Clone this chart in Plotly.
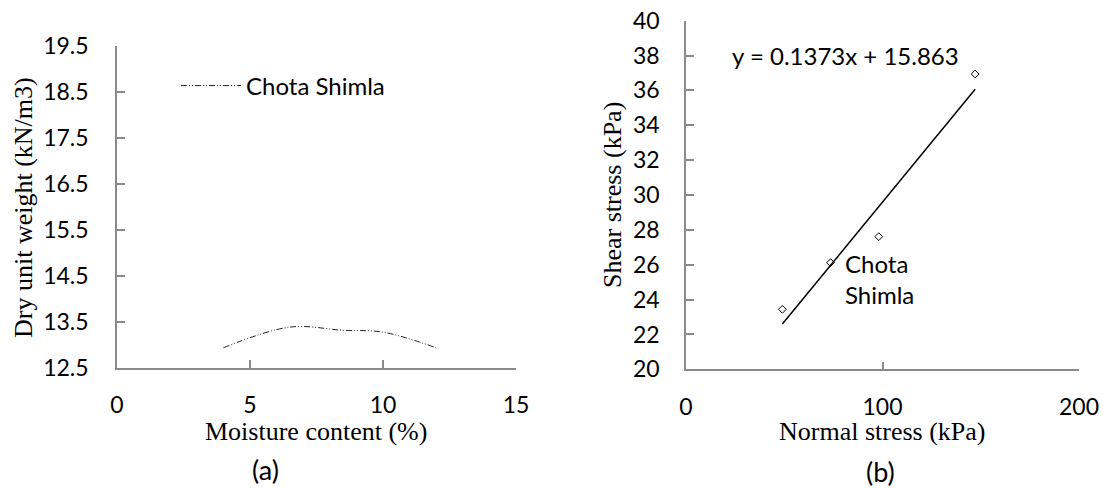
import numpy as np
import plotly.graph_objects as go

W, H = 1103, 488

# (a) compaction curve
moisture = [4.0, 6.5, 8.5, 10.0, 12.0]
dry_unit_weight = [12.94, 13.39, 13.32, 13.28, 12.94]

# (b) direct shear results
normal_stress = [49.05, 73.575, 98.1, 147.15]
shear_stress = [23.44, 26.12, 27.61, 36.94]
slope, intercept = 0.1373, 15.863

site = "Chota Shimla"

AXIS_GREY = "#8a8a8a"
TICK_FONT = dict(family="Lato", size=23, color="#000000")
TEXT_FONT = dict(family="Lato", size=24, color="#000000")
CAPTION_FONT = dict(family="Lato", size=27, color="#000000")
TITLE_FONT = dict(family="Liberation Serif", size=26, color="#000000")


def px(x, y):
    """Convert figure pixel position to paper fractions."""
    return x / W, 1 - y / H


fig = go.Figure()

fig.add_trace(go.Scatter(
    x=moisture, y=dry_unit_weight, mode="lines", name=site,
    line=dict(color="#222222", width=1, dash="6px,2px,1px,2px,1px,2px", shape="spline"),
    xaxis="x", yaxis="y", showlegend=True,
))

fig.add_trace(go.Scatter(
    x=normal_stress, y=shear_stress, mode="markers", name=site,
    marker=dict(symbol="diamond-open", size=6, color="#000000", line=dict(width=1)),
    xaxis="x2", yaxis="y2", showlegend=False,
))

fit_x = np.array([min(normal_stress), max(normal_stress)])
fig.add_trace(go.Scatter(
    x=fit_x, y=slope * fit_x + intercept, mode="lines",
    line=dict(color="#000000", width=1.5),
    xaxis="x2", yaxis="y2", showlegend=False,
))

axis_common = dict(
    showline=True, linecolor=AXIS_GREY, linewidth=1.5,
    ticks="inside", ticklen=8, tickwidth=1.5, tickcolor=AXIS_GREY,
    showgrid=False, zeroline=False, tickfont=TICK_FONT,
    automargin=False, fixedrange=True,
)

x0, y0 = px(117, 368)
x1, y1 = px(516, 46)
fig.update_layout(
    xaxis=dict(domain=[x0, x1], range=[0, 15], tick0=0, dtick=5,
               anchor="y", ticklabelstandoff=16, **axis_common),
    yaxis=dict(domain=[y0, y1], range=[12.5, 19.5], tick0=12.5, dtick=1,
               tickformat=".1f", anchor="x", ticklabelstandoff=22, **axis_common),
)

x0, y0 = px(686, 369.3)
x1, y1 = px(1079, 20.7)
fig.update_layout(
    xaxis2=dict(domain=[x0, x1], range=[0, 200], tick0=0, dtick=100,
                anchor="y2", ticklabelstandoff=16, **axis_common),
    yaxis2=dict(domain=[y0, y1], range=[20, 40], tick0=20, dtick=2,
                anchor="x2", ticklabelstandoff=20, **axis_common),
)

annotations = []


def label(text, x, y, font, angle=0, xanchor="center"):
    ax, ay = px(x, y)
    annotations.append(dict(
        text=text, x=ax, y=ay, xref="paper", yref="paper",
        xanchor=xanchor, yanchor="middle", showarrow=False,
        font=font, textangle=angle,
    ))


label("Moisture content (%)", 316, 431, TITLE_FONT)
label("Dry unit weight (kN/m3)", 23, 208, TITLE_FONT, angle=-90)
label("(a)", 265, 469, CAPTION_FONT)
label("Normal stress (kPa)", 882, 431, TITLE_FONT)
label("Shear stress (kPa)", 612, 195, TITLE_FONT, angle=-90)
label("(b)", 880, 471, CAPTION_FONT)

# trendline equation and site label, placed in the right panel's data space
annotations.append(dict(
    text=f"y = {slope}x + {intercept}", x=81, y=38.0, xref="x2", yref="y2",
    xanchor="center", yanchor="middle", showarrow=False, font=TEXT_FONT,
))
annotations.append(dict(
    text="Chota<br>Shimla", x=80, y=25.2, xref="x2", yref="y2",
    xanchor="left", yanchor="middle", align="left", showarrow=False, font=TEXT_FONT,
))

lx, ly = px(176, 86)
fig.update_layout(
    width=W, height=H,
    margin=dict(l=0, r=0, t=0, b=0),
    paper_bgcolor="#ffffff", plot_bgcolor="#ffffff",
    annotations=annotations,
    legend=dict(x=lx, y=ly, xanchor="left", yanchor="middle",
                bgcolor="rgba(0,0,0,0)", font=TEXT_FONT, itemwidth=60),
)

fig.write_html("out.html")
